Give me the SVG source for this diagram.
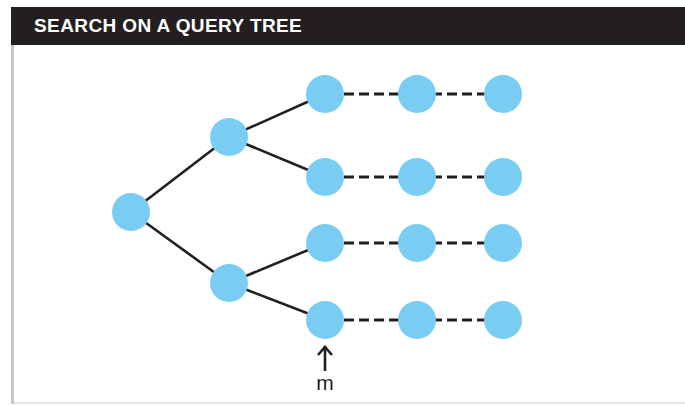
<svg xmlns="http://www.w3.org/2000/svg" width="685" height="405" viewBox="0 0 685 405">
<style>
.node{fill:#7acdf2}
.edge{stroke:#231f20;stroke-width:2.6;fill:none}
.dash{stroke:#231f20;stroke-width:3.2;stroke-dasharray:10 5;fill:none}
.title{font-family:"Liberation Sans",Arial,sans-serif;font-weight:bold;font-size:19px;letter-spacing:0.4px;fill:#ffffff}
.lbl{font-family:"Liberation Sans",Arial,sans-serif;font-size:21px;fill:#231f20}
</style>
<rect x="0" y="0" width="685" height="405" fill="#ffffff"/>
<rect x="11" y="7" width="674" height="38" fill="#231f20"/>
<text class="title" x="34" y="32">SEARCH ON A QUERY TREE</text>
<rect x="11" y="45" width="3" height="359" fill="#c6c6c8"/>
<rect x="14" y="402" width="671" height="2" fill="#e4e4e5"/>
<g id="connectors">
<line class="edge" x1="131" y1="212" x2="229" y2="137"/>
<line class="edge" x1="131" y1="212" x2="229" y2="283"/>
<line class="edge" x1="229" y1="137" x2="325" y2="94"/>
<line class="edge" x1="229" y1="137" x2="325" y2="177"/>
<line class="edge" x1="229" y1="283" x2="325" y2="243"/>
<line class="edge" x1="229" y1="283" x2="325" y2="320"/>
<line class="dash" x1="344" y1="94" x2="400" y2="94"/>
<line class="dash" x1="432" y1="94" x2="490" y2="94"/>
<line class="dash" x1="344" y1="177" x2="400" y2="177"/>
<line class="dash" x1="432" y1="177" x2="490" y2="177"/>
<line class="dash" x1="344" y1="243" x2="400" y2="243"/>
<line class="dash" x1="432" y1="243" x2="490" y2="243"/>
<line class="dash" x1="344" y1="320" x2="400" y2="320"/>
<line class="dash" x1="432" y1="320" x2="490" y2="320"/>
</g>
<g id="n-root"><circle class="node" cx="131" cy="212" r="19"/></g>
<g id="n-a"><circle class="node" cx="229" cy="137" r="19"/></g>
<g id="n-b"><circle class="node" cx="229" cy="283" r="19"/></g>
<g id="n-r1c1"><circle class="node" cx="325" cy="94" r="19"/></g>
<g id="n-r1c2"><circle class="node" cx="417" cy="94" r="19"/></g>
<g id="n-r1c3"><circle class="node" cx="503" cy="94" r="19"/></g>
<g id="n-r2c1"><circle class="node" cx="325" cy="177" r="19"/></g>
<g id="n-r2c2"><circle class="node" cx="417" cy="177" r="19"/></g>
<g id="n-r2c3"><circle class="node" cx="503" cy="177" r="19"/></g>
<g id="n-r3c1"><circle class="node" cx="325" cy="243" r="19"/></g>
<g id="n-r3c2"><circle class="node" cx="417" cy="243" r="19"/></g>
<g id="n-r3c3"><circle class="node" cx="503" cy="243" r="19"/></g>
<g id="n-r4c1"><circle class="node" cx="325" cy="320" r="19"/></g>
<g id="n-r4c2"><circle class="node" cx="417" cy="320" r="19"/></g>
<g id="n-r4c3"><circle class="node" cx="503" cy="320" r="19"/></g>
<g id="pointer">
<line class="edge" x1="325" y1="346" x2="325" y2="371"/>
<polyline class="edge" points="318,355 325,347 332,355"/>
<text class="lbl" x="325" y="390" text-anchor="middle">m</text>
</g>
</svg>
